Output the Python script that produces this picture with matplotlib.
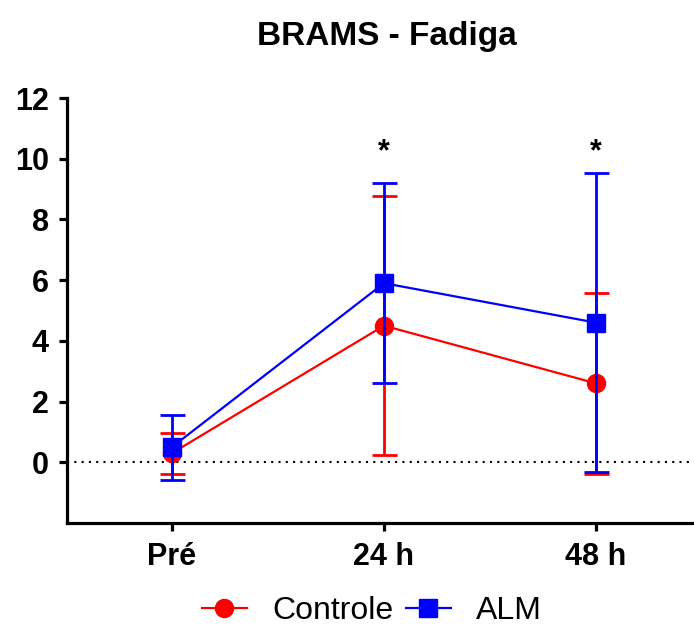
import matplotlib
matplotlib.use("Agg")
import matplotlib.pyplot as plt
from matplotlib.lines import Line2D
import numpy as np

plt.rcParams['font.family'] = ['Liberation Sans', 'DejaVu Sans']

categories = ["Pré", "24 h", "48 h"]
controle_mean = [0.30, 4.50, 2.60]
controle_sd = [0.67, 4.27, 2.98]
alm_mean = [0.50, 5.90, 4.60]
alm_sd = [1.07, 3.30, 4.93]
significance = ["", "*", "*"]
y_ticks = [0, 2, 4, 6, 8, 10, 12]

RED = '#ff0000'
BLUE = '#0000ff'

fig = plt.figure(figsize=(6.94, 6.30), dpi=100)
ax = fig.add_axes([67/694, 1-523/630, (692-67)/694, (523-98)/630])

x = np.arange(len(categories))

ax.axhline(0, color='black', linestyle=(0, (1, 2.5)), linewidth=1.5, zorder=1)

ax.errorbar(x, controle_mean, yerr=controle_sd, color=RED, marker='o',
            markersize=13, linewidth=1.6, elinewidth=2.0, capsize=9, capthick=2.0,
            zorder=3)
ax.errorbar(x, alm_mean, yerr=alm_sd, color=BLUE, marker='s',
            markersize=13, linewidth=1.6, elinewidth=2.0, capsize=9, capthick=2.0,
            zorder=4)

for xi, s in zip(x, significance):
    if s:
        ax.text(xi, 10.2, s, ha='center', va='center', fontsize=22, fontweight='bold')

ax.set_xlim(-0.495, 2.453)
ax.set_ylim(-2, 12)
ax.set_yticks(y_ticks)
ax.set_yticklabels([str(t) for t in y_ticks], fontsize=22, fontweight='bold')
ax.set_xticks(x)
ax.set_xticklabels(categories, fontsize=22, fontweight='bold')

for side in ['top', 'right']:
    ax.spines[side].set_visible(False)
for side in ['left', 'bottom']:
    ax.spines[side].set_linewidth(2.3)
ax.spines['left'].set_bounds(-2, 12)
ax.tick_params(axis='both', direction='out', length=6, width=2.3)
ax.tick_params(axis='y', pad=7)
ax.tick_params(axis='x', pad=8)

fig.text(387/694, 1-37/630, "BRAMS - Fadiga", ha='center', va='center',
         fontsize=24, fontweight='bold')

handles = [
    Line2D([], [], color=RED, marker='o', markersize=13, linewidth=1.6),
    Line2D([], [], color=BLUE, marker='s', markersize=13, linewidth=1.6),
]
labels = ['Controle', 'ALM']
fig.legend(handles, labels, loc='center', bbox_to_anchor=(372/694, 1-611/630),
           ncol=2, frameon=False, fontsize=23, handlelength=1.4,
           handletextpad=0.8, columnspacing=0.4, borderpad=0)

fig.savefig("out.png", dpi=100)
